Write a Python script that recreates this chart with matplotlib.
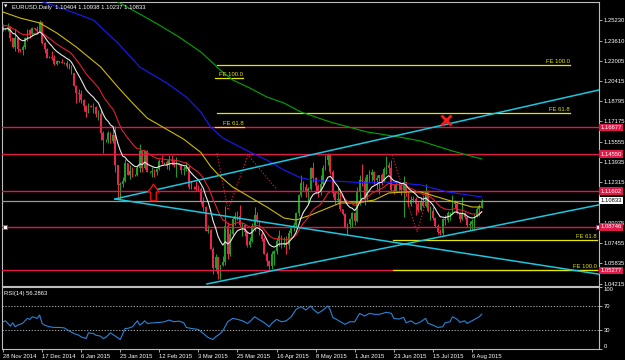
import numpy as np
import matplotlib
matplotlib.use("Agg")
import matplotlib.pyplot as plt
from matplotlib.transforms import blended_transform_factory
from matplotlib.path import Path

# ---------------- data ----------------
symbol_title = "EURUSD,Daily"
first_open = 1.2475
closes = [
    1.2452, 1.2455, 1.2471, 1.2380, 1.2313, 1.2380, 1.2290, 1.2282, 1.2311, 1.2379,
    1.2448, 1.2410, 1.2463, 1.2455, 1.2440, 1.2507, 1.2345, 1.2290, 1.2226, 1.2230,
    1.2226, 1.2176, 1.2195, 1.2192, 1.2182, 1.2183, 1.2155, 1.2160, 1.2100, 1.2002,
    1.1940, 1.1935, 1.1890, 1.1838, 1.1793, 1.1842, 1.1835, 1.1833, 1.1772, 1.1776,
    1.1625, 1.1565, 1.1570, 1.1625, 1.1560, 1.1610, 1.1365, 1.1205, 1.1220, 1.1240,
    1.1382, 1.1290, 1.1320, 1.1290, 1.1290, 1.1345, 1.1480, 1.1345, 1.1480, 1.1315,
    1.1315, 1.1320, 1.1310, 1.1340, 1.1400, 1.1390, 1.1390, 1.1370, 1.1410, 1.1400,
    1.1370, 1.1380, 1.1370, 1.1330, 1.1340, 1.1350, 1.1195, 1.1195, 1.1190, 1.1180,
    1.1175, 1.1075, 1.1030, 1.0840, 1.0850, 1.0700, 1.0550, 1.0630, 1.0495, 1.0570,
    1.0595, 1.0880, 1.0655, 1.0820, 1.0940, 1.0960, 1.0960, 1.0890, 1.0890, 1.0835,
    1.0730, 1.0765, 1.0885, 1.0970, 1.0920, 1.0815, 1.0780, 1.0660, 1.0600, 1.0560,
    1.0660, 1.0680, 1.0765, 1.0805, 1.0740, 1.0745, 1.0730, 1.0825, 1.0875, 1.0890,
    1.0985, 1.1125, 1.1225, 1.1195, 1.1150, 1.1180, 1.1345, 1.1265, 1.1200, 1.1150,
    1.1215, 1.1345, 1.1405, 1.1445, 1.1315, 1.1145, 1.1090, 1.1095, 1.1015, 1.0975,
    1.0875, 1.0900, 1.0935, 1.0985, 1.0925, 1.1150, 1.1250, 1.1240, 1.1110, 1.1290,
    1.1290, 1.1315, 1.1250, 1.1265, 1.1285, 1.1240, 1.1335, 1.1365, 1.1345, 1.1165,
    1.1155, 1.1210, 1.1205, 1.1165, 1.1235, 1.1145, 1.1060, 1.1090, 1.1095, 1.1055,
    1.1010, 1.1080, 1.1040, 1.1160, 1.1000, 1.1005, 1.0945, 1.0880, 1.0830, 1.0825,
    1.0940, 1.0930, 1.0985, 1.0985, 1.1060, 1.1060, 1.0985, 1.0935, 1.0985, 1.0950,
    1.0890, 1.0900, 1.0925, 1.0965, 1.1015, 1.1040, 1.10833]
highs = [
    1.2490, 1.2462, 1.2500, 1.2475, 1.2385, 1.2456, 1.2390, 1.2295, 1.2322, 1.2390,
    1.2450, 1.2456, 1.2470, 1.2465, 1.2475, 1.2525, 1.2512, 1.2350, 1.2300, 1.2236,
    1.2275, 1.2250, 1.2205, 1.2200, 1.2215, 1.2190, 1.2210, 1.2185, 1.2170, 1.2100,
    1.2005, 1.1975, 1.1965, 1.1895, 1.1850, 1.1865, 1.1848, 1.1865, 1.1840, 1.1810,
    1.1810, 1.1640, 1.1578, 1.1640, 1.1630, 1.1680, 1.1680, 1.1370, 1.1230, 1.1270,
    1.1420, 1.1385, 1.1365, 1.1350, 1.1300, 1.1365, 1.1535, 1.1490, 1.1485, 1.1490,
    1.1320, 1.1350, 1.1340, 1.1345, 1.1420, 1.1450, 1.1395, 1.1410, 1.1445, 1.1450,
    1.1420, 1.1430, 1.1385, 1.1375, 1.1360, 1.1390, 1.1365, 1.1240, 1.1200, 1.1240,
    1.1210, 1.1190, 1.1115, 1.1040, 1.0890, 1.0860, 1.0710, 1.0655, 1.0635, 1.0570,
    1.0640, 1.1040, 1.0910, 1.0855, 1.0950, 1.0990, 1.1000, 1.1050, 1.0910, 1.0900,
    1.0840, 1.0790, 1.0905, 1.1035, 1.0990, 1.0930, 1.0840, 1.0790, 1.0670, 1.0610,
    1.0680, 1.0690, 1.0785, 1.0850, 1.0810, 1.0790, 1.0800, 1.0850, 1.0880, 1.0915,
    1.0995, 1.1135, 1.1290, 1.1240, 1.1215, 1.1190, 1.1350, 1.1390, 1.1275, 1.1220,
    1.1285, 1.1370, 1.1445, 1.1467, 1.1450, 1.1325, 1.1160, 1.1190, 1.1175, 1.1020,
    1.0985, 1.0905, 1.0945, 1.0990, 1.0990, 1.1195, 1.1290, 1.1380, 1.1275, 1.1300,
    1.1330, 1.1340, 1.1320, 1.1285, 1.1285, 1.1305, 1.1350, 1.1436, 1.1390, 1.1410,
    1.1220, 1.1240, 1.1230, 1.1220, 1.1280, 1.1230, 1.1160, 1.1120, 1.1120, 1.1115,
    1.1080, 1.1110, 1.1125, 1.1215, 1.1165, 1.1040, 1.1035, 1.0950, 1.0900, 1.0855,
    1.0945, 1.0970, 1.1000, 1.0995, 1.1130, 1.1090, 1.1070, 1.0990, 1.1110, 1.0995,
    1.0965, 1.0920, 1.0935, 1.0980, 1.1035, 1.1055, 1.10938]
lows = [
    1.2435, 1.2442, 1.2440, 1.2355, 1.2300, 1.2280, 1.2270, 1.2272, 1.2245, 1.2295,
    1.2360, 1.2380, 1.2400, 1.2445, 1.2410, 1.2430, 1.2330, 1.2265, 1.2220, 1.2220,
    1.2210, 1.2165, 1.2165, 1.2185, 1.2180, 1.2175, 1.2145, 1.2135, 1.2095, 1.2000,
    1.1865, 1.1870, 1.1860, 1.1800, 1.1755, 1.1780, 1.1830, 1.1780, 1.1750, 1.1730,
    1.1570, 1.1460, 1.1552, 1.1545, 1.1540, 1.1545, 1.1315, 1.1115, 1.1098, 1.1190,
    1.1230, 1.1285, 1.1260, 1.1270, 1.1280, 1.1280, 1.1315, 1.1315, 1.1340, 1.1310,
    1.1305, 1.1270, 1.1270, 1.1285, 1.1330, 1.1375, 1.1380, 1.1340, 1.1325, 1.1370,
    1.1350, 1.1270, 1.1365, 1.1300, 1.1290, 1.1320, 1.1175, 1.1180, 1.1180, 1.1160,
    1.1160, 1.1060, 1.1000, 1.0840, 1.0825, 1.0700, 1.0495, 1.0520, 1.0462, 1.0460,
    1.0560, 1.0570, 1.0615, 1.0640, 1.0810, 1.0890, 1.0930, 1.0870, 1.0800, 1.0805,
    1.0710, 1.0715, 1.0755, 1.0840, 1.0905, 1.0810, 1.0760, 1.0660, 1.0565, 1.0520,
    1.0535, 1.0570, 1.0660, 1.0725, 1.0705, 1.0710, 1.0660, 1.0700, 1.0805, 1.0845,
    1.0865, 1.0965, 1.1110, 1.1160, 1.1110, 1.1060, 1.1170, 1.1230, 1.1145, 1.1110,
    1.1130, 1.1205, 1.1330, 1.1370, 1.1300, 1.1110, 1.1060, 1.1075, 1.1000, 1.0970,
    1.0865, 1.0819, 1.0865, 1.0870, 1.0890, 1.0915, 1.1050, 1.1200, 1.1050, 1.1090,
    1.1230, 1.1240, 1.1215, 1.1180, 1.1135, 1.1210, 1.1230, 1.1300, 1.1300, 1.1150,
    1.1135, 1.1150, 1.1170, 1.1130, 1.0955, 1.1120, 1.1030, 1.1040, 1.1070, 1.0970,
    1.0990, 1.1000, 1.1030, 1.1030, 1.0990, 1.0930, 1.0930, 1.0870, 1.0820, 1.0810,
    1.0810, 1.0890, 1.0915, 1.0930, 1.0980, 1.1025, 1.0980, 1.0910, 1.0930, 1.0940,
    1.0870, 1.0850, 1.0850, 1.0850, 1.0955, 1.0960, 1.10237]
last_open = 1.10404

# moving averages (bar index, price)
yellow_bar = [0, 7, 15, 22, 30, 40, 47, 53, 59, 64, 74, 81, 85, 88, 94, 101, 108, 115,
              120, 126, 133, 138, 145, 152, 158, 165, 171, 182, 192, 196]
yellow_ma = [1.2589, 1.2541, 1.2502, 1.2422, 1.2310, 1.2150, 1.1991, 1.1863, 1.1743, 1.1687,
             1.1574, 1.1468, 1.1357, 1.1293, 1.1193, 1.1113, 1.1033, 1.0945, 1.0929, 1.0969,
             1.1025, 1.1065, 1.1065, 1.1089, 1.1145, 1.1153, 1.1153, 1.1089, 1.1033, 1.1033]
blue_bar = [16, 26, 37, 47, 56, 67, 75, 81, 85, 90, 101, 108, 115, 122, 129, 135, 142,
            149, 157, 162, 171, 182, 196]
blue_ma = [1.2672, 1.2605, 1.2525, 1.2342, 1.2150, 1.2023, 1.1911, 1.1790, 1.1672, 1.1584,
           1.1472, 1.1408, 1.1329, 1.1265, 1.1241, 1.1241, 1.1233, 1.1225, 1.1233, 1.1225,
           1.1209, 1.1153, 1.1113]
green_bar = [47, 56, 64, 72, 81, 89, 94, 101, 108, 115, 122, 134, 149, 162, 171, 184, 196]
green_ma = [1.2669, 1.2573, 1.2485, 1.2390, 1.2270, 1.2126, 1.2047, 1.1983, 1.1911, 1.1863,
            1.1791, 1.1711, 1.1632, 1.1592, 1.1560, 1.1480, 1.1416]
white_period, white_seed = 10, 1.2454
red_period, red_seed = 21, 1.2485

# RSI(14)
rsi_bar = [0, 1, 3, 4, 5, 6, 8, 10, 11, 12, 14, 15, 16, 17, 19, 21, 23, 25, 27, 29, 31, 32,
           34, 35, 37, 38, 40, 41, 42, 44, 46, 48, 50, 51, 53, 55, 56, 57, 58, 59, 62, 64,
           66, 68, 70, 72, 74, 75, 77, 80, 82, 84, 86, 87, 89, 90, 92, 94, 96, 98, 100,
           101, 103, 104, 107, 109, 110, 112, 114, 116, 118, 120, 122, 123, 124, 126, 127,
           129, 131, 133, 134, 135, 137, 140, 142, 144, 146, 148, 150, 152, 154, 157, 159,
           160, 162, 164, 165, 167, 169, 171, 173, 174, 176, 178, 180, 181, 183, 184, 186,
           187, 189, 190, 192, 195, 196]
rsi_val = [43.9, 45.5, 36.9, 42.3, 35.8, 38.5, 41.3, 49.4, 47.8, 52.0, 49.4, 54.8, 41.3, 38.5,
           35.8, 34.8, 34.8, 34.1, 29.3, 25.0, 22.3, 19.5, 16.9, 26.0, 25.0, 22.3, 20.7, 16.9,
           18.5, 26.0, 20.7, 15.3, 33.2, 33.2, 35.8, 45.5, 38.5, 41.3, 45.5, 41.3, 42.3, 42.9,
           43.9, 46.7, 43.9, 45.0, 42.3, 34.8, 33.2, 31.5, 25.0, 18.5, 15.3, 19.5, 25.0, 29.3,
           43.9, 49.4, 47.8, 45.5, 41.3, 43.9, 52.0, 49.4, 42.3, 35.8, 41.3, 47.8, 43.9, 45.5,
           52.0, 64.0, 68.3, 65.6, 62.9, 69.4, 64.0, 57.5, 62.9, 69.4, 62.9, 51.0, 46.7, 39.7,
           43.9, 43.9, 57.5, 53.2, 57.5, 55.9, 55.9, 59.2, 57.5, 49.4, 48.3, 51.0, 42.3, 45.5,
           40.2, 43.9, 49.4, 41.3, 38.5, 34.8, 35.8, 42.3, 43.9, 52.0, 47.8, 42.9, 45.5, 41.3,
           45.5, 52.0, 56.3]
rsi_last_text = "56.2863"

# horizontal levels
red_levels = [1.16677, 1.14550, 1.11602, 1.08746, 1.05277]
axis_levels = [1.25230, 1.23610, 1.22005, 1.20415, 1.18795, 1.17175, 1.15555, 1.13935,
               1.12315, 1.09075, 1.07455, 1.05835, 1.04215]
rsi_levels = [0, 30, 70, 100]

# Fibonacci-expansion objects: (level text, price, bar_start, bar_end)
fe_lines = [("FE 100.0", 1.21639, 87.6, 232.1), ("FE 61.8", 1.17809, 87.6, 232.1),
            ("FE 100.0", 1.20626, 86.8, 98.3), ("FE 61.8", 1.16700, 86.8, 98.6),
            ("FE 61.8", 1.07697, 159.7, 243.2), ("FE 100.0", 1.05290, 159.7, 243.2)]
# dotted anchor paths of the expansion objects (bar, price)
fe_path1_bar = [87.6, 92.1, 100.3, 112.2]
fe_path1_price = [1.1464, 1.1009, 1.1448, 1.1169]
fe_path2_bar = [159.3, 169.5, 174.4]
fe_path2_price = [1.1448, 1.0834, 1.1153]

# trend lines: two anchor points (bar, price) each, drawn as rays to the right
trend_lines = [((45.85, 1.1097), (244.0, 1.1967)),
               ((45.85, 1.1097), (243.6, 1.0498)),
               ((83.5, 1.0419), (243.7, 1.1049))]

# date labels on the x axis
date_bars = [0, 16, 32, 48, 64, 80, 96, 112, 128, 144, 160, 176, 192]
date_labels = ["28 Nov 2014", "17 Dec 2014", "6 Jan 2015", "25 Jan 2015", "12 Feb 2015",
               "3 Mar 2015", "25 Mar 2015", "16 Apr 2015", "8 May 2015", "1 Jun 2015",
               "23 Jun 2015", "15 Jul 2015", "6 Aug 2015"]

# markers
arrow_pos = (61.4, 1.1149)
cross_pos = (181.4, 1.1727)

# ---------------- style ----------------
BG = "black"
FG = "white"
RED = "#e0194b"
BULL = "#1f9e1f"
BEAR = "#e8264c"
CYAN = "#1cc6df"
FEY = "#e6e600"
FS = 4.2
plt.rcParams['font.family'] = ['Liberation Sans', 'DejaVu Sans']

W, H = 625, 360
fig = plt.figure(figsize=(W / 100, H / 100), dpi=100, facecolor=BG)


def fx(px):
    return px / W


def fy(py):
    return 1 - py / H


XL = (-0.41, 244.0)
ax = fig.add_axes([fx(2), fy(286), fx(599) - fx(2), fy(2) - fy(286)], facecolor=BG)
ax.set_xlim(*XL)
ax.set_ylim(1.04025, 1.26690)

opens = [first_open] + closes[:-1]
opens[-1] = last_open
n = len(closes)

# candles
for i in range(n):
    o, c, h, l = opens[i], closes[i], highs[i], lows[i]
    col = BULL if c >= o else BEAR
    ax.vlines(i, l, h, color=col, lw=0.75, zorder=2)
    ax.bar(i, max(abs(c - o), 0.00012), bottom=min(o, c), width=0.72, color=col,
           linewidth=0, zorder=2)

# horizontal lines
for lv in red_levels:
    ax.axhline(lv, color=RED, lw=1.0, zorder=3)
ax.axhline(closes[-1], color="#9a9a9a", lw=0.9, zorder=3)
ax.plot([XL[0] + 1.3, XL[1] - 0.6], [red_levels[3]] * 2, ls="none", marker="s", ms=2.4,
        mfc="white", mec=RED, mew=0.7, zorder=6, clip_on=False)

# FE lines
for txt, lv, b0, b1 in fe_lines:
    ax.plot([b0, b1], [lv, lv], color=FEY, lw=0.9, zorder=3)
    ax.text(b1, lv + 0.0009, txt, color=FEY, fontsize=FS, ha="right", va="bottom", zorder=7)
ax.plot(fe_path1_bar, fe_path1_price, color="#e8102a", lw=0.8, ls=(0, (1.2, 1.6)), zorder=4)
ax.plot(fe_path2_bar, fe_path2_price, color="#e8102a", lw=0.8, ls=(0, (1.2, 1.6)), zorder=4)

# moving averages
def ema(vals, period, seed):
    k = 2.0 / (period + 1)
    out, prev = [], seed
    for v in vals:
        prev = prev + k * (v - prev)
        out.append(prev)
    return out

ax.plot(green_bar, green_ma, color="#00a800", lw=0.8, zorder=4)
ax.plot(blue_bar, blue_ma, color="#1a1aff", lw=0.8, zorder=4)
ax.plot(yellow_bar, yellow_ma, color="#cdbb00", lw=0.8, zorder=4)
ax.plot(range(n), ema(closes, red_period, red_seed), color="#e02030", lw=0.8, zorder=4)
ax.plot(range(n), ema(closes, white_period, white_seed), color="#e8e8e8", lw=0.8, zorder=4)

# trend lines (rays)
for (x0, y0), (x1, y1) in trend_lines:
    slope = (y1 - y0) / (x1 - x0)
    xe = XL[1] + 5
    ax.plot([x0, xe], [y0, y0 + slope * (xe - x0)], color=CYAN, lw=1.1, zorder=5)

# arrow marker
arrow_path = Path([(-0.65, 0.06), (0, 1), (0.65, 0.06), (0.33, 0.06), (0.33, -1),
                   (-0.33, -1), (-0.33, 0.06), (-0.65, 0.06)],
                  [Path.MOVETO] + [Path.LINETO] * 6 + [Path.CLOSEPOLY])
ax.plot(*arrow_pos, marker=arrow_path, ms=12, mfc=BG, mec="#ff1010", mew=0.9, zorder=6)
ax.plot(*cross_pos, marker="x", ms=6.5, mec="#ff1a1a", mew=2.0, zorder=6)

# axes styling
for sp in ax.spines.values():
    sp.set_color("#bdbdbd")
    sp.set_linewidth(0.8)
ax.set_xticks([])
ax.yaxis.tick_right()
ax.set_yticks(axis_levels)
ax.set_yticklabels([f"{v:.5f}" for v in axis_levels])
ax.tick_params(axis="y", length=2, width=0.6, color="#c8c8c8", labelcolor=FG,
               labelsize=FS, pad=1.2)

tr = blended_transform_factory(ax.transAxes, ax.transData)
for lv in red_levels:
    ax.text(1.0025, lv, f"{lv:.5f}", transform=tr, color="white", fontsize=FS, ha="left",
            va="center", zorder=10, clip_on=False,
            bbox=dict(boxstyle="square,pad=0.22", fc=RED, ec="none"))
ax.text(1.0025, closes[-1], f"{closes[-1]:.5f}", transform=tr, color="black", fontsize=FS,
        ha="left", va="center", zorder=10, clip_on=False,
        bbox=dict(boxstyle="square,pad=0.22", fc="white", ec="none"))

# title
fig.text(fx(4), fy(7), "\u25BC", color=FG, fontsize=3.2, va="center", ha="left",
         family="DejaVu Sans")
fig.text(fx(12), fy(7), f"{symbol_title}  {last_open:.5f} {highs[-1]:.5f} "
         f"{lows[-1]:.5f} {closes[-1]:.5f}", color=FG, fontsize=FS, va="center", ha="left")

# ---------------- RSI panel ----------------
rax = fig.add_axes([fx(2), fy(349), fx(599) - fx(2), fy(287) - fy(349)], facecolor=BG)
rax.set_xlim(*XL)
rax.set_ylim(0, 100)
for lv in (30, 70):
    rax.axhline(lv, color="#c8c8c8", lw=0.6, ls=(0, (1.5, 2)))
rax.plot(rsi_bar, rsi_val, color="#2a84d8", lw=0.8)
for sp in rax.spines.values():
    sp.set_color("#bdbdbd")
    sp.set_linewidth(0.8)
rax.yaxis.tick_right()
rax.set_yticks(rsi_levels)
rax.set_yticklabels([str(v) for v in rsi_levels])
for lab, v in zip(rax.get_yticklabels(), rsi_levels):
    if v == 100:
        lab.set_va("top")
    elif v == 0:
        lab.set_va("bottom")
rax.tick_params(axis="y", length=2, width=0.6, color="#c8c8c8", labelcolor=FG,
                labelsize=FS, pad=1.2)
rax.set_xticks(date_bars)
rax.set_xticklabels(date_labels, ha="left")
rax.tick_params(axis="x", length=2.5, width=0.6, color="#c8c8c8", labelcolor=FG,
                labelsize=FS, pad=0.8)
rax.text(0.004, 0.9, f"RSI(14) {rsi_last_text}", transform=rax.transAxes, color=FG,
         fontsize=FS, va="center", ha="left")

fig.savefig("out.png", dpi=100, facecolor=BG)
